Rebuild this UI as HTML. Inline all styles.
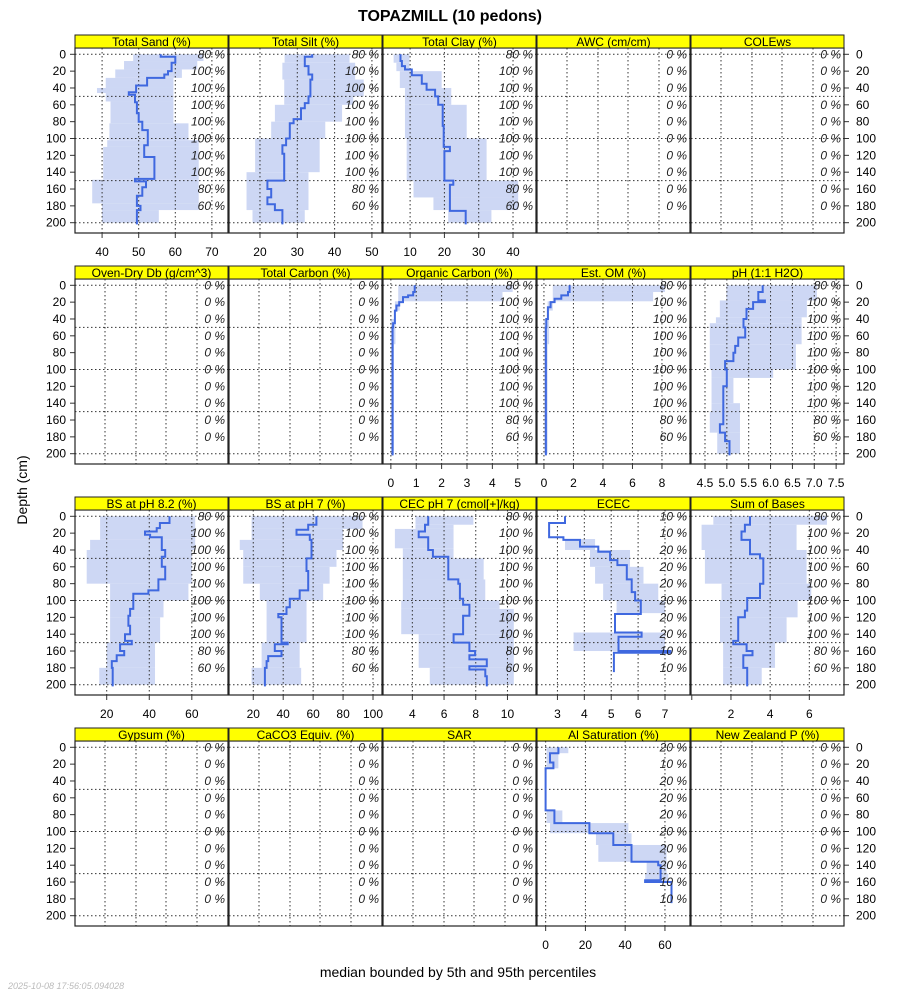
<!DOCTYPE html>
<html><head><meta charset="utf-8">
<style>
html,body{margin:0;padding:0;background:#fff;}
svg{display:block;font-family:"Liberation Sans",sans-serif;}
</style></head>
<body>
<svg id="chart" width="900" height="1000" viewBox="0 0 900 1000">
<text x="450" y="21" text-anchor="middle" font-size="16" font-weight="bold">TOPAZMILL (10 pedons)</text>
<text x="27" y="490" text-anchor="middle" font-size="14" transform="rotate(-90 27 490)">Depth (cm)</text>
<text x="458" y="977" text-anchor="middle" font-size="14">median bounded by 5th and 95th percentiles</text>
<text x="8" y="989" font-size="9" font-style="italic" fill="#bbb">2025-10-08 17:56:05.094028</text>
</svg>
<script>
// ---- data ----
const depthTicks = [0,20,40,60,80,100,120,140,160,180,200];
const pctDepths = [0,20,40,60,80,100,120,140,160,180];
const pctStd = [80,100,100,100,100,100,100,100,80,60];
const pctEcec = [10,10,20,20,20,20,20,20,10,10];
const pctAl = [20,10,20,20,20,20,20,20,10,10];
const pctZero = [0,0,0,0,0,0,0,0,0,0];

const sandMedTop = [0,3,10,20,24,28,37,45,48,57,70,80,90,108,122,148,151,158,168,180,185,202];
const sandMed = [56,60,59,58,57,52.3,49.3,47.3,49,49.5,50,51,52.5,51.5,54.3,49,52,51,49.5,50.5,49.5];
const sandBandTop = [0,8,18,28,40,46,56,82,102,110,149,177,185,200];
const sandLo = [48.5,46,43.6,41,38.6,41,42.3,42,41.4,40.3,37.3,40,40];
const sandHi = [67.7,66,61.8,59.5,59.5,59.5,59.5,63.6,66.4,66.4,66.4,66.4,55.5];

const siltMedTop = [0,3,14,24,30,50,58,64,77,82,100,108,118,150,160,170,178,185,202];
const siltMed = [34,32,33,34,33.5,33,32,31,29,28,27,26,26.5,22,23,22,24,26];
const siltBandTop = [0,10,30,50,60,80,100,140,185,200];
const siltLo = [26.6,26,26.5,26.5,24,23,18.7,16.4,18];
const siltHi = [44,45.5,47.8,45,42,37.5,36,33,32];

const clayMedTop = [0,8,14,18,25,35,42,50,60,85,110,115,150,155,186,202];
const clayMed = [7.2,7.6,8.5,10.5,13.4,14.8,17.3,18.2,19.5,19.8,21.6,20,22.6,21.6,26.2];
const clayBandTop = [0,10,20,40,60,100,150,170,185,200];
const clayLo = [5.2,6,7,8.5,8.5,9,11,16.8,21.1];
const clayHi = [9.8,9.8,19.2,22,26.5,32.3,41.5,41.5,33.7];

const ocMedTop = [0,8,12,14,20,24,30,45,50,202];
const ocMed = [0.94,0.88,0.68,0.48,0.33,0.22,0.16,0.09,0.07];
const ocBandTop = [0,8,19,30,40,70,200];
const ocLo = [0.29,0.29,0.16,0.16,0,0];
const ocHi = [4.8,4.4,0.35,0.18,0.18,0.12];

const omMedTop = [0,8,12,16,20,26,40,50,202];
const omMed = [1.74,1.63,1.18,0.72,0.45,0.27,0.16,0.13];
const omBandTop = [0,8,19,30,40,70,200];
const omLo = [0.6,0.6,0.25,0.25,0.02,0.02];
const omHi = [8.2,7.4,0.6,0.35,0.35,0.25];

const phMedTop = [0,8,18,20,28,40,50,62,72,80,90,100,120,165,175,185,202];
const phMed = [5.82,5.72,5.87,5.6,5.45,5.38,5.42,5.26,5.19,5.15,4.96,5.0,4.92,4.84,4.96,5.06];
const phBandTop = [0,18,38,45,70,100,110,140,150,175,200];
const phLo = [4.99,4.84,4.75,4.61,4.61,4.65,4.65,4.65,4.61,4.78];
const phHi = [7.06,6.83,6.71,6.71,6.58,6.06,5.15,5.3,5.3,5.3];

const bs82MedTop = [0,8,14,18,22,25,40,48,60,75,88,92,110,118,130,140,148,152,160,165,172,180,202];
const bs82Med = [49.5,45,43.5,38,40.4,45.9,47.5,45.9,47.5,44.3,39.6,32.5,31,30.2,31,28.6,31.8,26.3,28.2,24.7,22.4,22.8];
const bs82BandTop = [0,28,40,80,100,120,150,180,200];
const bs82Lo = [16.9,12.2,10.6,21.6,21.6,21.6,20,16.5];
const bs82Hi = [61.6,61.6,60,58.4,46.7,45.1,42.7,42.7];

const bs7MedTop = [0,10,16,22,28,50,65,88,98,108,116,120,150,152,160,166,172,180,202];
const bs7Med = [62.2,56.7,48.9,57.8,58.9,55.6,56.7,51,44.4,42.2,36.7,38.9,43,34.4,38.9,30,28.9,27.8];
const bs7BandTop = [0,15,28,40,60,80,100,150,180,200];
const bs7Lo = [18.9,18.9,11,13.3,13.3,24.4,28.9,25.6,18.9];
const bs7Hi = [93,80,80,75.6,71,66.7,55.6,51,52];

const cecMedTop = [0,10,18,25,40,48,75,80,98,105,118,140,150,160,165,170,178,182,190,202];
const cecMed = [5.0,4.8,4.4,5.0,5.3,6.27,6.9,7.0,7.2,7.6,7.2,6.6,7.6,7.96,7.6,8.7,7.6,8.6,8.7];
const cecBandTop = [0,10,15,38,50,75,100,110,140,180,200];
const cecLo = [4.2,4.2,2.9,3.4,3.4,3.4,3.3,3.3,4.4,5.1];
const cecHi = [7.85,6.6,6.6,6.6,8.5,8.6,9.5,10.4,10.4,10.4];

const ececMedTop = [0,8,25,28,36,42,52,58,75,90,100,116,138,143,160,162,185];
const ececMed = [3.28,2.69,3.22,3.84,4.52,4.96,5.23,5.58,5.76,5.89,6.1,5.14,6.13,5.27,7.2,5.1];
const ececBandTop = [27,40,60,80,100,115,138,160];
const ececLo = [3.28,4.21,4.4,4.7,5.2,null,3.6];
const ececHi = [4.4,5.7,6.2,6.75,7.0,null,7.0];

const sobMedTop = [0,10,18,28,45,50,80,97,112,120,148,152,160,165,180,202];
const sobMed = [2.97,2.71,2.54,2.97,3.48,3.65,3.48,2.83,2.71,2.37,2.12,2.8,3.1,2.63,2.83];
const sobBandTop = [0,10,40,80,100,120,150,180,200];
const sobLo = [1.1,0.5,0.67,1.52,1.44,1.44,1.6,1.6];
const sobHi = [6.9,5.35,5.86,6.1,5.4,4.84,4.25,3.57];

const alMedTop = [0,7,18,25,75,90,102,116,136,140,158,160,185];
const alMed = [6.4,2.2,3.9,0,4.4,22,34,43.2,56.6,57.8,50,63.3];
const alBandTop = [0,7,25,75,90,102,116,136,150,160];
const alLo = [0.5,0.5,null,0.5,2.2,25.3,26.5,50.8,50];
const alHi = [11.4,6.4,null,8.4,41.6,43.2,60.8,60.8,61.7];

// ---- layout ----
const NS = "http://www.w3.org/2000/svg";
const svg = document.getElementById("chart");
const colX = [75,229,383,537,691];
const panelW = 153;
const rowStrip = [35,266,497,728];
const stripH = 13, plotH = 185;
const pxPerCm = 0.842;
const emptyGrid = [30,61,91,122];

function mk(tag, attrs, parent){
  const e = document.createElementNS(NS, tag);
  for (const k in attrs) e.setAttribute(k, attrs[k]);
  (parent||svg).appendChild(e);
  return e;
}

const panels = [
  {r:0,c:0,title:"Total Sand (%)",xlim:[32.6,74.4],ticks:[40,50,60,70],labels:["40","50","60","70"],mt:sandMedTop,m:sandMed,bt:sandBandTop,lo:sandLo,hi:sandHi,pct:pctStd},
  {r:0,c:1,title:"Total Silt (%)",xlim:[11.7,52.7],ticks:[20,30,40,50],labels:["20","30","40","50"],mt:siltMedTop,m:siltMed,bt:siltBandTop,lo:siltLo,hi:siltHi,pct:pctStd},
  {r:0,c:2,title:"Total Clay (%)",xlim:[2.1,46.7],ticks:[10,20,30,40],labels:["10","20","30","40"],mt:clayMedTop,m:clayMed,bt:clayBandTop,lo:clayLo,hi:clayHi,pct:pctStd},
  {r:0,c:3,title:"AWC (cm/cm)",pct:pctZero},
  {r:0,c:4,title:"COLEws",pct:pctZero},
  {r:1,c:0,title:"Oven-Dry Db (g/cm^3)",pct:pctZero},
  {r:1,c:1,title:"Total Carbon (%)",pct:pctZero},
  {r:1,c:2,title:"Organic Carbon (%)",xlim:[-0.31,5.72],ticks:[0,1,2,3,4,5],labels:["0","1","2","3","4","5"],mt:ocMedTop,m:ocMed,bt:ocBandTop,lo:ocLo,hi:ocHi,pct:pctStd},
  {r:1,c:3,title:"Est. OM (%)",xlim:[-0.47,9.9],ticks:[0,2,4,6,8],labels:["0","2","4","6","8"],mt:omMedTop,m:omMed,bt:omBandTop,lo:omLo,hi:omHi,pct:pctStd},
  {r:1,c:4,title:"pH (1:1 H2O)",xlim:[4.18,7.68],ticks:[4.5,5,5.5,6,6.5,7,7.5],labels:["4.5","5.0","5.5","6.0","6.5","7.0","7.5"],mt:phMedTop,m:phMed,bt:phBandTop,lo:phLo,hi:phHi,pct:pctStd},
  {r:2,c:0,title:"BS at pH 8.2 (%)",xlim:[5.1,77],ticks:[20,40,60],labels:["20","40","60"],mt:bs82MedTop,m:bs82Med,bt:bs82BandTop,lo:bs82Lo,hi:bs82Hi,pct:pctStd},
  {r:2,c:1,title:"BS at pH 7 (%)",xlim:[3.8,106],ticks:[20,40,60,80,100],labels:["20","40","60","80","100"],mt:bs7MedTop,m:bs7Med,bt:bs7BandTop,lo:bs7Lo,hi:bs7Hi,pct:pctStd},
  {r:2,c:2,title:"CEC pH 7 (cmol[+]/kg)",xlim:[2.15,11.8],ticks:[4,6,8,10],labels:["4","6","8","10"],mt:cecMedTop,m:cecMed,bt:cecBandTop,lo:cecLo,hi:cecHi,pct:pctStd},
  {r:2,c:3,title:"ECEC",xlim:[2.24,7.93],ticks:[3,4,5,6,7],labels:["3","4","5","6","7"],mt:ececMedTop,m:ececMed,bt:ececBandTop,lo:ececLo,hi:ececHi,pct:pctEcec},
  {r:2,c:4,title:"Sum of Bases",xlim:[-0.04,7.77],ticks:[0,2,4,6],labels:["","2","4","6"],mt:sobMedTop,m:sobMed,bt:sobBandTop,lo:sobLo,hi:sobHi,pct:pctStd},
  {r:3,c:0,title:"Gypsum (%)",pct:pctZero},
  {r:3,c:1,title:"CaCO3 Equiv. (%)",pct:pctZero},
  {r:3,c:2,title:"SAR",pct:pctZero},
  {r:3,c:3,title:"Al Saturation (%)",xlim:[-4.35,72.6],ticks:[0,20,40,60],labels:["0","20","40","60"],mt:alMedTop,m:alMed,bt:alBandTop,lo:alLo,hi:alHi,pct:pctAl},
  {r:3,c:4,title:"New Zealand P (%)",pct:pctZero}
];

// depth axes and horizontal grid for each row
for (let r=0;r<4;r++){
  const top = rowStrip[r]+stripH;
  const d0 = rowStrip[r]+19.3;
  const yS = d => d0 + d*pxPerCm;
  const bg = mk("rect",{x:75,y:top,width:769,height:plotH,fill:"#fff"});
  
  
  depthTicks.forEach(d=>{
    const y = yS(d);
    const tl = mk("line",{x1:70,x2:75,y1:y,y2:y,stroke:"#333"});
    
    
    const ll = mk("text",{x:66,y:y+4,"text-anchor":"end","font-size":12});
    ll.textContent = d;
    
    
    const tr = mk("line",{x1:844,x2:849,y1:y,y2:y,stroke:"#333"});
    
    
    const lr = mk("text",{x:856,y:y+4,"font-size":12});
    lr.textContent = d;
    
    
  });
}

panels.forEach(p=>{
  const x0 = colX[p.c], top = rowStrip[p.r]+stripH, d0 = rowStrip[p.r]+19.3;
  const yS = d => d0 + d*pxPerCm;
  const g = mk("g",{});
  
  
  let xS = null;
  if (p.xlim){ xS = v => x0 + (v-p.xlim[0])/(p.xlim[1]-p.xlim[0])*panelW; }
  // band
  if (p.bt){
    for (let i=0;i<p.lo.length;i++){
      if (p.lo[i]===null || p.hi[i]===null) continue;
      const a = xS(p.lo[i]), b = xS(p.hi[i]);
      const rc = mk("rect",{x:Math.min(a,b),y:yS(p.bt[i]),width:Math.abs(b-a),height:yS(p.bt[i+1])-yS(p.bt[i]),fill:"#cdd7f4"},g);
      
      
    }
  }
  // vertical grid
  const gx = p.xlim ? p.ticks.map(xS) : emptyGrid.map(o=>x0+o);
  gx.forEach(x=>{
    if (x<=x0+1 || x>=x0+panelW-1) return;
    const l = mk("line",{x1:x,x2:x,y1:top,y2:top+plotH,stroke:"#333","stroke-dasharray":"1.5,2.5","stroke-width":1},g);
    
    
  });
  // horizontal grid
  [0,50,100,150,200].forEach(d=>{
    const l = mk("line",{x1:x0,x2:x0+panelW,y1:yS(d),y2:yS(d),stroke:"#333","stroke-dasharray":"1.5,2.5","stroke-width":1},g);
    
    
  });
  // median
  if (p.mt){
    let dStr = "";
    for (let i=0;i<p.m.length;i++){
      const x = xS(p.m[i]);
      dStr += (i===0?"M":"L")+x.toFixed(1)+","+yS(p.mt[i]).toFixed(1)+"L"+x.toFixed(1)+","+yS(p.mt[i+1]).toFixed(1);
    }
    const pa = mk("path",{d:dStr,fill:"none",stroke:"#3f68df","stroke-width":2},g);
    
    
  }
  // percent labels
  p.pct.forEach((v,i)=>{
    const t = mk("text",{x:x0+panelW-3,y:yS(pctDepths[i])+4,"text-anchor":"end","font-size":12,"font-style":"italic",fill:"#222"},g);
    t.textContent = v+" %";
    
    
  });
  // border
  const bd = mk("rect",{x:x0,y:top,width:panelW,height:plotH,fill:"none",stroke:"#222","stroke-width":1.2},g);
  
  
  // strip
  const st = mk("rect",{x:x0,y:rowStrip[p.r],width:panelW,height:stripH,fill:"#ffff00",stroke:"#222","stroke-width":1},g);
  
  
  const stt = mk("text",{x:x0+panelW/2,y:rowStrip[p.r]+11,"text-anchor":"middle","font-size":12},g);
  stt.textContent = p.title;
  
  
  // x axis
  if (p.xlim){
    p.ticks.forEach((v,i)=>{
      const x = xS(v);
      const tk = mk("line",{x1:x,x2:x,y1:top+plotH,y2:top+plotH+5,stroke:"#333"},g);
      
      
      if (p.labels[i]!==""){
        const tl = mk("text",{x:x,y:top+plotH+23,"text-anchor":"middle","font-size":12},g);
        tl.textContent = p.labels[i];
        
        
      }
    });
  }
});
</script>
</body></html>
